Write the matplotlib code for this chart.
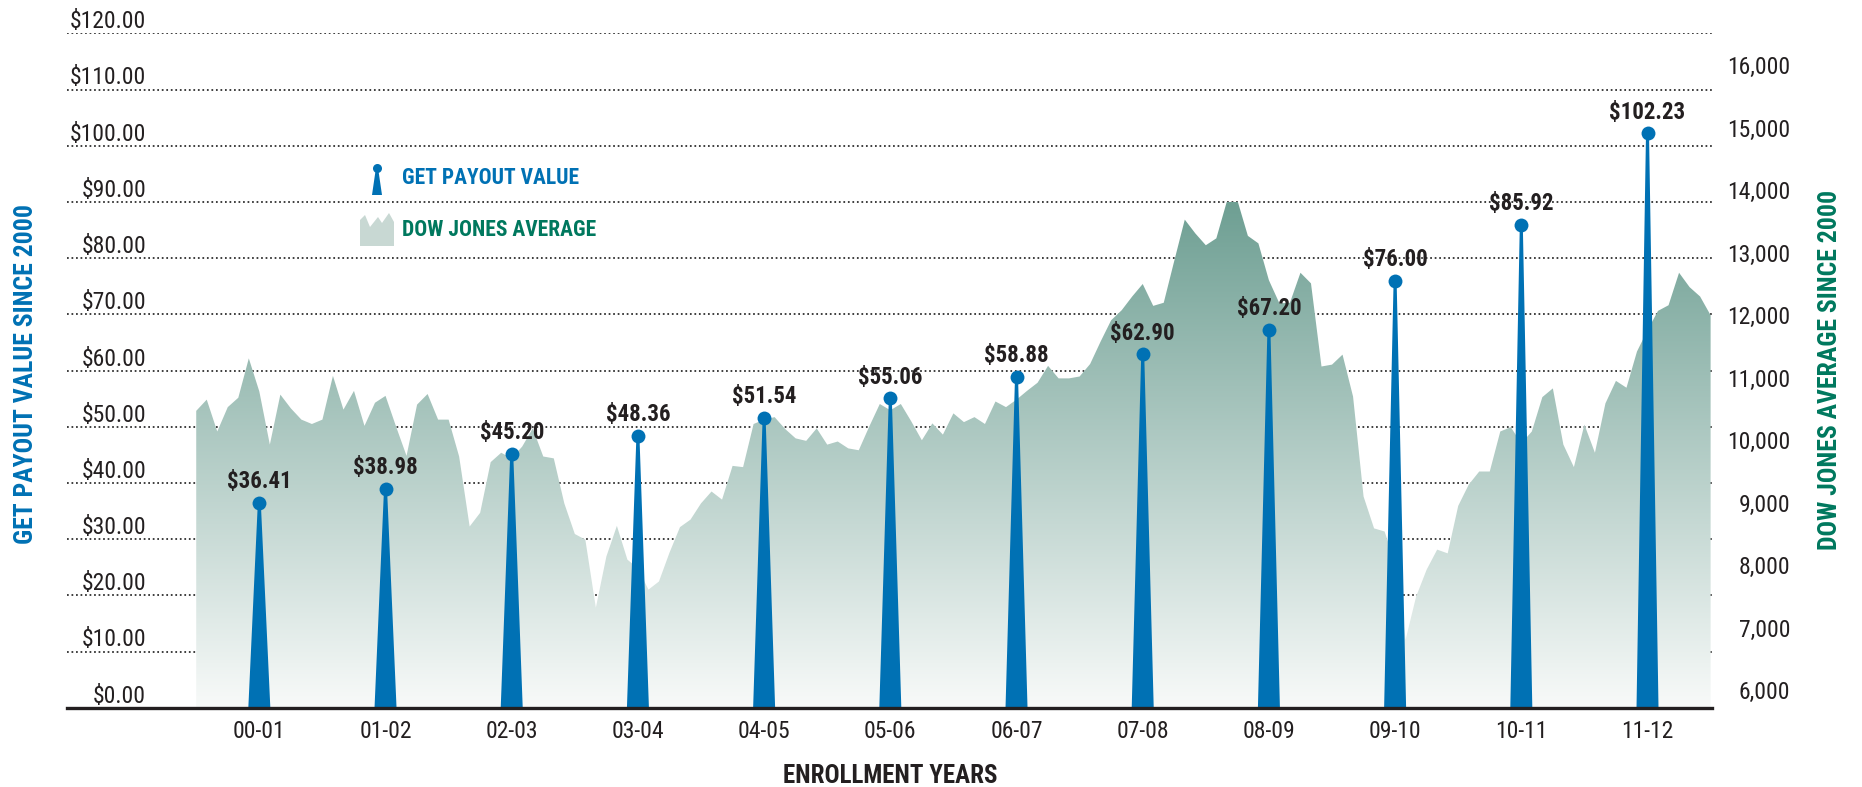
import numpy as np
import matplotlib
matplotlib.use('Agg')
import matplotlib.pyplot as plt
from matplotlib import font_manager
from matplotlib.colors import LinearSegmentedColormap
from matplotlib.patches import Polygon
from matplotlib.lines import Line2D

# enrollment years and GET payout value
years = ['00-01', '01-02', '02-03', '03-04', '04-05', '05-06',
         '06-07', '07-08', '08-09', '09-10', '10-11', '11-12']
payout = [36.41, 38.98, 45.20, 48.36, 51.54, 55.06, 58.88, 62.90, 67.20, 76.00, 85.92, 102.23]

# Dow Jones monthly average (Jul 1999 .. Jul 2011)
dow = [10690, 10870, 10360, 10750, 10900, 11530, 11000, 10150, 10950, 10730, 10550, 10480,
       10550, 11250, 10710, 11010, 10450, 10820, 10930, 10440, 9970, 10790, 10960, 10550,
       10550, 9960, 8840, 9060, 9870, 10020, 9930, 10120, 10410, 9960, 9930, 9210,
       8720, 8630, 7540, 8360, 8850, 8310, 8170, 7830, 7960, 8420, 8830, 8950,
       9210, 9400, 9270, 9810, 9790, 10480, 10550, 10590, 10400, 10250, 10210, 10410,
       10150, 10200, 10090, 10060, 10440, 10800, 10700, 10800, 10520, 10220, 10490, 10310,
       10650, 10510, 10590, 10480, 10840, 10750, 10870, 11010, 11140, 11410, 11210, 11210,
       11240, 11440, 11800, 12140, 12300, 12520, 12720, 12370, 12420, 13090, 13750, 13530,
       13340, 13450, 14040, 14060, 13490, 13370, 12780, 12410, 12420, 12900, 12730, 11400,
       11430, 11590, 10920, 9320, 8810, 8760, 8260, 7030, 7720, 8150, 8470, 8410,
       9170, 9510, 9720, 9720, 10360, 10430, 10170, 10360, 10910, 11050, 10150, 9790,
       10470, 10020, 10810, 11170, 11060, 11640, 11980, 12290, 12380, 12900, 12670, 12520,
       12220]

payout_ticks = np.arange(0, 121, 10)
dow_ticks = np.arange(6000, 16001, 1000)

blue = '#0071B4'
green = '#00785E'
dark = '#231F20'

# condensed face, like the original
names = {f.name for f in font_manager.fontManager.ttflist}
cond = 'Roboto Condensed' if 'Roboto Condensed' in names else 'DejaVu Sans'
plt.rcParams['font.family'] = [cond, 'DejaVu Sans']
plt.rcParams['font.stretch'] = 'condensed'

W, H = 1862, 787
def fx(px):
    return px / W
def fy(py):
    return 1 - py / H

fig = plt.figure(figsize=(W / 100, H / 100), dpi=100)
ax = fig.add_axes([fx(67), fy(707.7), (1712 - 67) / W, 674.4 / H])
ax2 = ax.twinx()

# gradient area for the Dow, clipped to its outline
xm = (np.arange(len(dow)) - 6) / 12
area = ax2.fill_between(xm, dow, 5941, facecolor='none', edgecolor='none')
clip = area.get_paths()[0]
cmap = LinearSegmentedColormap.from_list('dj', ['#F8FAF9', '#6E9F93'])
grad = np.linspace(0, 1, 256).reshape(-1, 1)
im = ax.imshow(grad, extent=[-0.5, 11.5, 0, 90], origin='lower', aspect='auto',
               cmap=cmap, zorder=1, interpolation='bicubic')
im.set_clip_path(clip, transform=ax2.transData)

# spikes
bw = 11 / 126.2
tw = 1.5 / 126.2
for i, v in enumerate(payout):
    ax.fill([i - bw, i - tw, i + tw, i + bw], [0, v, v, 0], color=blue, lw=0, zorder=3)
    ax.annotate('$%.2f' % v, (i, v), xytext=(0, 10.5), textcoords='offset points',
                ha='center', va='baseline', fontsize=16.5, fontweight='bold',
                color=dark, zorder=5)
ax.plot(range(len(payout)), payout, 'o', ms=10, color=blue, mec='none', zorder=4)

ax.set_xlim(-1.524, 11.511)
ax.set_ylim(0, 120)
ax2.set_ylim(5941, 16731)

ax.set_axisbelow(True)
ax.set_yticks(payout_ticks)
ax.set_yticklabels(['$%.2f' % t for t in payout_ticks])
ax.grid(axis='y', color='#262626', lw=1.25, linestyle=(0, (1.0, 1.6)))
ax.tick_params(axis='y', length=0, pad=-56.9, labelsize=17, labelcolor=dark)
for t in ax.get_yticklabels():
    t.set_va('bottom')

ax.set_xticks(range(len(years)))
ax.set_xticklabels(years)
ax.tick_params(axis='x', length=0, pad=9, labelsize=17, labelcolor=dark)

ax2.set_yticks(dow_ticks)
ax2.set_yticklabels(['{:,}'.format(t) for t in dow_ticks])
ax2.tick_params(axis='y', length=0, pad=56.5, labelsize=17, labelcolor=dark)
for t in ax2.get_yticklabels():
    t.set_ha('right')
    t.set_va('bottom')

for s in ['left', 'right', 'top']:
    ax.spines[s].set_visible(False)
for s in ax2.spines.values():
    s.set_visible(False)
ax.spines['bottom'].set_linewidth(2.4)
ax.spines['bottom'].set_color(dark)
ax.spines['bottom'].set_zorder(6)

ax.set_xlabel('ENROLLMENT YEARS', fontsize=18, fontweight='bold', color=dark, va='baseline')
ax.xaxis.set_label_coords(0.5003, -0.1117)
ax.set_ylabel('GET PAYOUT VALUE SINCE 2000', fontsize=18.5, fontweight='bold', color=blue, va='center')
ax.yaxis.set_label_coords(-0.0249, 0.4948)
ax2.set_ylabel('DOW JONES AVERAGE SINCE 2000', fontsize=18.5, fontweight='bold', color=green,
               rotation=90, va='center')
ax2.yaxis.set_label_coords(1.0717, 0.5004)

# legend
fig.add_artist(Polygon([(fx(372), fy(195)), (fx(375.5), fy(171)), (fx(378.5), fy(171)), (fx(382), fy(195))],
                       closed=True, color=blue, lw=0, transform=fig.transFigure))
fig.add_artist(Line2D([fx(377)], [fy(168)], marker='o', ms=6.5, color=blue, mec='none',
                      transform=fig.transFigure))
icon = [(360, 246), (360, 220), (365, 215), (370, 227), (378, 217), (382, 223),
        (389, 213), (394, 222), (394, 246)]
fig.add_artist(Polygon([(fx(a), fy(b)) for a, b in icon], closed=True, color='#C8D8D3', lw=0,
                       transform=fig.transFigure))
fig.text(fx(402), fy(178), 'GET PAYOUT VALUE', ha='left', va='center', fontsize=15.5,
         fontweight='bold', color=blue)
fig.text(fx(402), fy(230), 'DOW JONES AVERAGE', ha='left', va='center', fontsize=15.5,
         fontweight='bold', color=green)

fig.savefig('out.png', dpi=100)
